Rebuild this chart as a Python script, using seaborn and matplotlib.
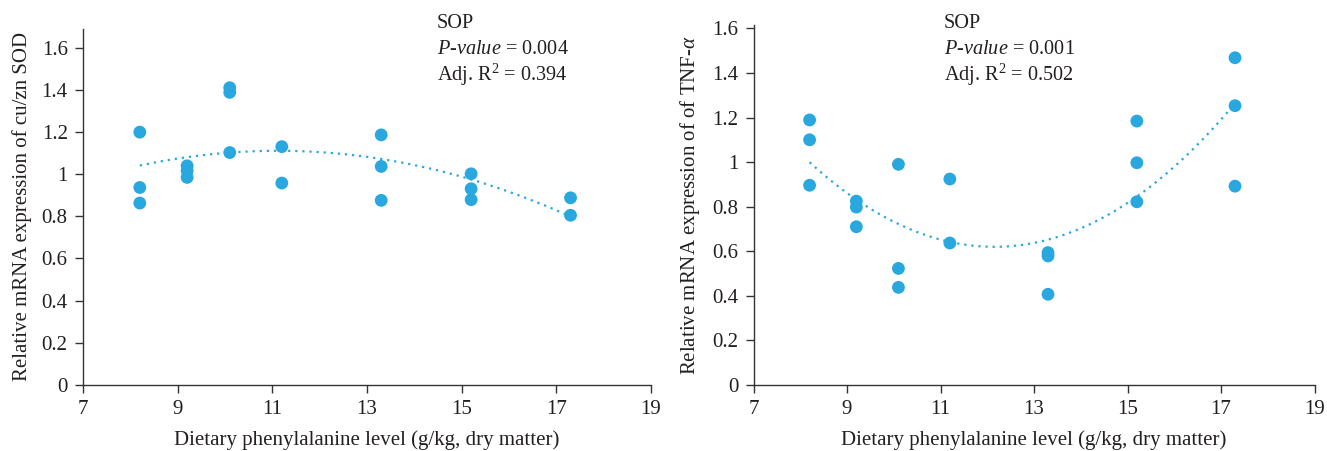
import numpy as np
import pandas as pd
import matplotlib
matplotlib.use("Agg")
import matplotlib.pyplot as plt
import seaborn as sns

# ---- data ----
sod_x = [8.2, 8.2, 8.2, 9.2, 9.2, 9.2, 10.1, 10.1, 10.1, 11.2, 11.2,
         13.3, 13.3, 13.3, 15.2, 15.2, 15.2, 17.3, 17.3]
sod_y = [1.20, 0.937, 0.863, 1.04, 1.017, 0.985, 1.411, 1.389, 1.103, 1.131, 0.958,
         1.187, 1.037, 0.876, 1.002, 0.931, 0.879, 0.888, 0.805]

tnf_x = [8.2, 8.2, 8.2, 9.2, 9.2, 9.2, 10.1, 10.1, 10.1, 11.2, 11.2,
         13.3, 13.3, 13.3, 15.2, 15.2, 15.2, 17.3, 17.3, 17.3]
tnf_y = [1.189, 1.100, 0.896, 0.825, 0.798, 0.710, 0.990, 0.523, 0.438, 0.924, 0.637,
         0.594, 0.579, 0.407, 1.184, 0.997, 0.822, 1.468, 1.253, 0.892]

x_ticks = [7, 9, 11, 13, 15, 17, 19]
y_ticks = [0, 0.2, 0.4, 0.6, 0.8, 1.0, 1.2, 1.4, 1.6]
y_tick_labels = ["0", "0.2", "0.4", "0.6", "0.8", "1", "1.2", "1.4", "1.6"]

sod_stats = ["SOP", "$P$-$value$ = 0.004", "Adj. R$^2$ = 0.394"]
tnf_stats = ["SOP", "$P$-$value$ = 0.001", "Adj. R$^2$ = 0.502"]

x_label = "Dietary phenylalanine level (g/kg, dry matter)"
sod_ylabel = "Relative mRNA expression of cu/zn SOD"
tnf_ylabel = r"Relative mRNA expression of of TNF-$\alpha$"

sod_df = pd.DataFrame({"x": sod_x, "y": sod_y})
tnf_df = pd.DataFrame({"x": tnf_x, "y": tnf_y})

# ---- style ----
sns.set_theme(style="ticks")
plt.rcParams["font.family"] = ["Liberation Serif", "DejaVu Serif"]
plt.rcParams["mathtext.fontset"] = "custom"
plt.rcParams["mathtext.rm"] = "Liberation Serif"
plt.rcParams["mathtext.it"] = "Liberation Serif:italic"
plt.rcParams["mathtext.bf"] = "Liberation Serif:bold"

W, H = 1327, 451
fig = plt.figure(figsize=(W / 100, H / 100), dpi=100)

dot_color = "#29a8e0"
text_color = "#231f20"

def px_axes(x0, x1, ytop, ybot):
    return fig.add_axes([x0 / W, (H - ybot) / H, (x1 - x0) / W, (ybot - ytop) / H])

ax1 = px_axes(83, 651, 29, 384.7)
ax2 = px_axes(753.5, 1314.5, 25, 385)

panels = [
    (ax1, sod_df, sod_ylabel, sod_stats, 1.69, 437),
    (ax2, tnf_df, tnf_ylabel, tnf_stats, 1.615, 944),
]

for ax, df, ylab, stats, ytop, tx in panels:
    sns.regplot(data=df, x="x", y="y", order=2, ci=None, scatter=False,
                truncate=True, ax=ax,
                line_kws=dict(color=dot_color, lw=1.6, ls=(0, (1, 2.2))))
    sns.scatterplot(data=df, x="x", y="y", ax=ax, s=85, color=dot_color,
                    edgecolor="none", linewidth=0, zorder=3)
    ax.set_xlim(7, 19)
    ax.set_ylim(0, ytop)
    ax.set_xticks(x_ticks)
    ax.set_xticklabels([str(t) for t in x_ticks])
    ax.set_yticks(y_ticks)
    ax.set_yticklabels(y_tick_labels)
    ax.set_xlabel(x_label, fontsize=15, color=text_color, labelpad=8)
    ax.set_ylabel(ylab, fontsize=15, color=text_color, labelpad=7)
    ax.tick_params(axis="both", direction="out", length=6, width=1,
                   color="#333333", labelsize=15, labelcolor=text_color, pad=5)
    for side in ["top", "right"]:
        ax.spines[side].set_visible(False)
    for side in ["left", "bottom"]:
        ax.spines[side].set_color("#333333")
        ax.spines[side].set_linewidth(1)
    for i, s in enumerate(stats):
        fig.text(tx / W, 1 - (24 + 25.5 * i) / H, s, fontsize=14.6,
                 color=text_color, va="center", ha="left")

fig.savefig("out.png", dpi=100)
